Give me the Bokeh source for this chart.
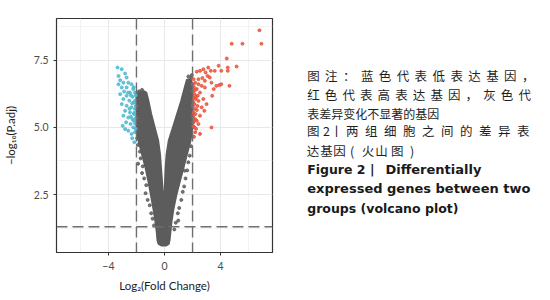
from bokeh.plotting import figure
from bokeh.layouts import row
from bokeh.models import Range1d, FixedTicker, Span, NumeralTickFormatter
from bokeh.core.properties import value
from bokeh.embed import file_html
from bokeh.resources import INLINE

# ---------------- data ----------------
# up-regulated genes (red): (log2FC, -log10 padj)
up_genes = [(6.77, 8.62), (4.79, 8.12), (5.56, 8.12), (6.91, 8.12), (4.44, 7.57),
            (5.14, 7.27), (4.51, 7.23), (4.51, 7.11), (3.86, 7.30), (4.05, 7.11),
            (3.58, 7.11), (3.30, 7.11), (3.12, 7.23), (2.77, 7.17), (2.93, 7.05),
            (2.53, 7.11), (2.30, 7.08), (3.07, 6.92), (4.63, 6.55), (4.05, 6.61),
            (3.70, 6.55), (3.51, 6.43), (3.35, 6.67), (3.40, 6.18), (2.88, 6.49),
            (2.65, 6.55), (2.42, 6.61), (2.19, 6.67), (2.07, 6.80), (2.30, 6.43),
            (2.53, 6.30), (2.14, 6.24), (2.77, 6.06), (2.42, 5.99), (2.14, 5.87),
            (2.65, 5.75), (2.30, 5.65), (2.07, 5.56), (2.53, 5.44), (2.19, 5.31),
            (2.07, 5.19), (2.42, 5.13), (3.35, 5.00), (2.14, 5.00), (2.53, 4.76),
            (2.19, 4.82), (2.05, 5.37), (2.88, 6.74), (2.70, 6.84), (3.23, 6.86),
            (2.23, 6.06), (3.00, 5.87), (2.37, 6.18), (2.84, 5.62), (2.02, 5.81),
            (2.42, 6.80), (3.91, 6.58), (2.03, 6.60), (2.10, 6.50), (2.05, 6.35),
            (2.20, 6.40), (2.10, 6.10), (2.25, 6.15), (2.05, 5.95), (2.15, 5.70),
            (2.35, 5.80), (2.05, 5.45), (2.20, 5.50), (2.10, 5.25), (2.30, 5.25),
            (2.05, 5.05), (2.25, 4.95), (2.10, 4.65)]

# down-regulated genes (blue)
down_genes = [(-3.35, 7.23), (-3.05, 7.17), (-2.81, 7.01), (-3.28, 6.92), (-2.70, 6.86),
              (-3.16, 6.76), (-2.93, 6.67), (-2.58, 6.67), (-2.35, 6.61), (-3.28, 6.61),
              (-3.05, 6.49), (-2.70, 6.49), (-2.23, 6.43), (-2.88, 6.34), (-2.46, 6.30),
              (-3.16, 6.24), (-2.70, 6.18), (-2.28, 6.14), (-2.93, 6.06), (-2.51, 6.00),
              (-2.18, 5.93), (-3.05, 5.87), (-2.70, 5.81), (-2.35, 5.75), (-2.81, 5.62),
              (-2.46, 5.56), (-2.18, 5.50), (-2.93, 5.44), (-2.58, 5.37), (-2.28, 5.31),
              (-2.74, 5.19), (-2.42, 5.13), (-2.98, 5.06), (-2.23, 5.00), (-2.58, 4.88),
              (-2.35, 4.76), (-2.11, 4.82), (-2.81, 4.94), (-2.11, 5.69), (-2.11, 6.30),
              (-2.30, 4.60), (-2.15, 4.45), (-2.05, 6.20), (-2.10, 6.00), (-2.05, 5.80),
              (-2.15, 5.55), (-2.05, 5.35), (-2.10, 5.15), (-2.05, 4.95), (-2.20, 5.25),
              (-2.30, 5.90), (-2.40, 6.20), (-2.20, 6.50), (-2.60, 6.30), (-2.50, 5.70),
              (-2.40, 5.40)]

# outline of the dense cloud of non-significant genes (grey)
ns_cloud = [(-1.45, 6.35), (-1.75, 6.30), (-2.00, 6.20), (-2.00, 5.50), (-2.00, 4.90),
            (-1.85, 4.50), (-1.60, 4.00), (-1.35, 3.50), (-1.15, 3.00), (-0.97, 2.50),
            (-0.80, 2.00), (-0.65, 1.50), (-0.55, 1.10), (-0.50, 0.80), (-0.42, 0.66),
            (-0.20, 0.60), (0.10, 0.60), (0.30, 0.66), (0.36, 0.80), (0.42, 1.10),
            (0.50, 1.50), (0.65, 2.00), (0.85, 2.50), (1.10, 3.00), (1.35, 3.50),
            (1.60, 4.00), (1.85, 4.50), (2.00, 5.00), (2.00, 6.00), (2.00, 6.60),
            (1.85, 6.80), (1.60, 6.78), (1.45, 6.50), (1.20, 6.00), (0.90, 5.50),
            (0.60, 5.00), (0.30, 4.50), (0.15, 4.00), (0.08, 3.50), (0.04, 3.00),
            (0.00, 2.50), (-0.02, 2.00), (-0.05, 1.40), (-0.08, 2.00), (-0.12, 2.50),
            (-0.18, 3.00), (-0.25, 3.50), (-0.32, 4.00), (-0.45, 4.50), (-0.70, 5.00),
            (-0.95, 5.50), (-1.15, 6.00), (-1.30, 6.30)]

# scattered non-significant genes at the cloud's edge
ns_genes = [(-1.88, 3.65), (-1.95, 4.60), (-1.90, 4.35), (-1.75, 4.10), (-1.70, 3.85),
            (-1.55, 3.55), (-1.60, 3.30), (-1.45, 3.10), (-1.30, 2.85), (-1.35, 2.55),
            (-1.20, 2.30), (-1.05, 2.10), (-0.95, 1.80), (-0.85, 1.60), (-0.75, 1.35),
            (-1.60, 6.40), (-1.80, 6.35), (-1.95, 6.30), (1.95, 4.70), (1.90, 4.30),
            (1.80, 3.95), (1.70, 3.70), (1.62, 3.40), (1.44, 3.39), (1.50, 3.10),
            (1.40, 2.80), (1.30, 2.60), (1.20, 2.30), (1.05, 2.00), (0.95, 1.80),
            (0.98, 1.53), (0.80, 1.45), (0.70, 1.20), (1.70, 6.90), (1.90, 6.85),
            (1.95, 6.95)]

fc_cutoffs = [-2, 2]
padj_cutoff = 1.3

x_ticks = [-4, 0, 4]
x_minor = [-6, -2, 2, 6]
y_ticks = [2.5, 5.0, 7.5]
y_minor = [1.25, 3.75, 6.25, 8.75]

x_title = "Log₂(Fold Change)"
y_title = "−log₁₀(P.adj)"

cn_note = ["图注：蓝色代表低表达基因，", "红色代表高表达基因，灰色代", "表差异变化不显著的基因"]
cn_title1 = ["图", "2", "丨", "两", "组", "细", "胞", "之", "间", "的", "差", "异", "表"]
cn_title2 = ["达", "基", "因", "(", "火", "山", "图", ")"]
en_title = ["Figure 2", "|", "Differentially", "expressed genes between two", "groups (volcano plot)"]

# ---------------- plot ----------------
LATIN = "Lato"
CJK = "Noto Sans CJK SC"
H = 300

p = figure(width=282, height=H, x_range=Range1d(-7.7, 7.7), y_range=Range1d(0.34, 9.06),
           output_backend="svg", toolbar_location=None,
           min_border_left=52, min_border_right=10, min_border_top=18, min_border_bottom=48)
p.background_fill_color = "white"
p.outline_line_color = "#333333"
p.outline_line_width = 1.2

p.xaxis.ticker = FixedTicker(ticks=x_ticks, minor_ticks=x_minor)
p.yaxis.ticker = FixedTicker(ticks=y_ticks, minor_ticks=y_minor)
p.yaxis.formatter = NumeralTickFormatter(format="0.0")
for ax in (p.xaxis, p.yaxis):
    ax.axis_line_color = "#333333"
    ax.major_tick_line_color = "#333333"
    ax.major_tick_in = 0
    ax.major_tick_out = 3
    ax.minor_tick_line_color = None
    ax.major_label_text_font = LATIN
    ax.major_label_text_font_size = "10.5px"
    ax.major_label_text_color = "#4d4d4d"
    ax.major_label_standoff = 4
    ax.axis_label_text_font = LATIN
    ax.axis_label_text_font_size = "11.5px"
    ax.axis_label_text_font_style = "normal"
    ax.axis_label_text_color = "#222222"
p.xaxis.axis_label = x_title
p.yaxis.axis_label = y_title
p.xaxis.major_label_standoff = 5
p.xaxis.axis_label_standoff = 6
p.yaxis.axis_label_standoff = 14

for g in (p.xgrid, p.ygrid):
    g.grid_line_color = "#e8e8e8"
    g.grid_line_width = 1
    g.minor_grid_line_color = "#eeeeee"
    g.minor_grid_line_width = 0.7

cx, cy = zip(*ns_cloud)
p.patch(list(cx), list(cy), fill_color="#5c5c5c", line_color="#5c5c5c", line_width=2)
nx, ny = zip(*ns_genes)
p.scatter(list(nx), list(ny), size=3, color="#5c5c5c", alpha=0.85)
dx, dy = zip(*down_genes)
p.scatter(list(dx), list(dy), size=3, color="#4db8d0", alpha=0.85)
ux, uy = zip(*up_genes)
p.scatter(list(ux), list(uy), size=3, color="#e8553c", alpha=0.85)

for fc in fc_cutoffs:
    p.add_layout(Span(location=fc, dimension="height", line_color="#6e6e6e",
                      line_dash="11 5", line_width=1.4))
p.add_layout(Span(location=padj_cutoff, dimension="width", line_color="#6e6e6e",
                  line_dash="11 5", line_width=1.4))

# ---------------- caption panel ----------------
t = figure(width=268, height=H, x_range=Range1d(0, 268), y_range=Range1d(H, 0),
           output_backend="svg", toolbar_location=None, min_border=0,
           x_axis_type=None, y_axis_type=None)
t.outline_line_color = None
t.background_fill_color = "white"

def put(xs, ys, texts, font, size, align="left", style="normal", color="#1e1e1e"):
    t.text(x=xs, y=ys, text=texts, text_font=value(font), text_font_size=size,
           text_font_style=style, text_align=align, text_baseline="middle",
           text_color=color)

x0 = 24.7
# justified Chinese note lines
for line, yy, pitch in ((cn_note[0], 72.7, 17.9), (cn_note[1], 97.7, 17.6)):
    chars = list(line)
    put([x0 + i * pitch for i in range(len(chars))], [yy] * len(chars), chars, CJK, "12.5px")
put([x0], [121.7], [cn_note[2]], CJK, "12px")

# title line 1 (Chinese)
c1 = [30.7, 44.0, 54.0] + [69.7 + i * 19.0 for i in range(10)]
put(c1, [144.0] * len(cn_title1), cn_title1, CJK, "12.5px", align="center")
# title line 2
c2 = [30.5, 44.0, 57.0, 69.7, 85.5, 99.0, 114.7, 129.7]
put(c2, [169.0] * len(cn_title2), cn_title2, CJK, "12.5px", align="center")

# English title
put([x0], [194.0], [en_title[0]], "DejaVu Sans", "12.5px", style="bold", color="#1a1a1a")
put([89.7], [194.0], [en_title[1]], "DejaVu Sans", "12.5px", align="center", style="bold", color="#1a1a1a")
put([103.0], [194.0], [en_title[2]], "DejaVu Sans", "13px", style="bold", color="#1a1a1a")
put([x0], [218.0], [en_title[3]], "DejaVu Sans", "13px", style="bold", color="#1a1a1a")
put([x0], [243.0], [en_title[4]], "DejaVu Sans", "12.5px", style="bold", color="#1a1a1a")

layout = row(p, t)
open("out.html", "w").write(file_html(layout, INLINE))
